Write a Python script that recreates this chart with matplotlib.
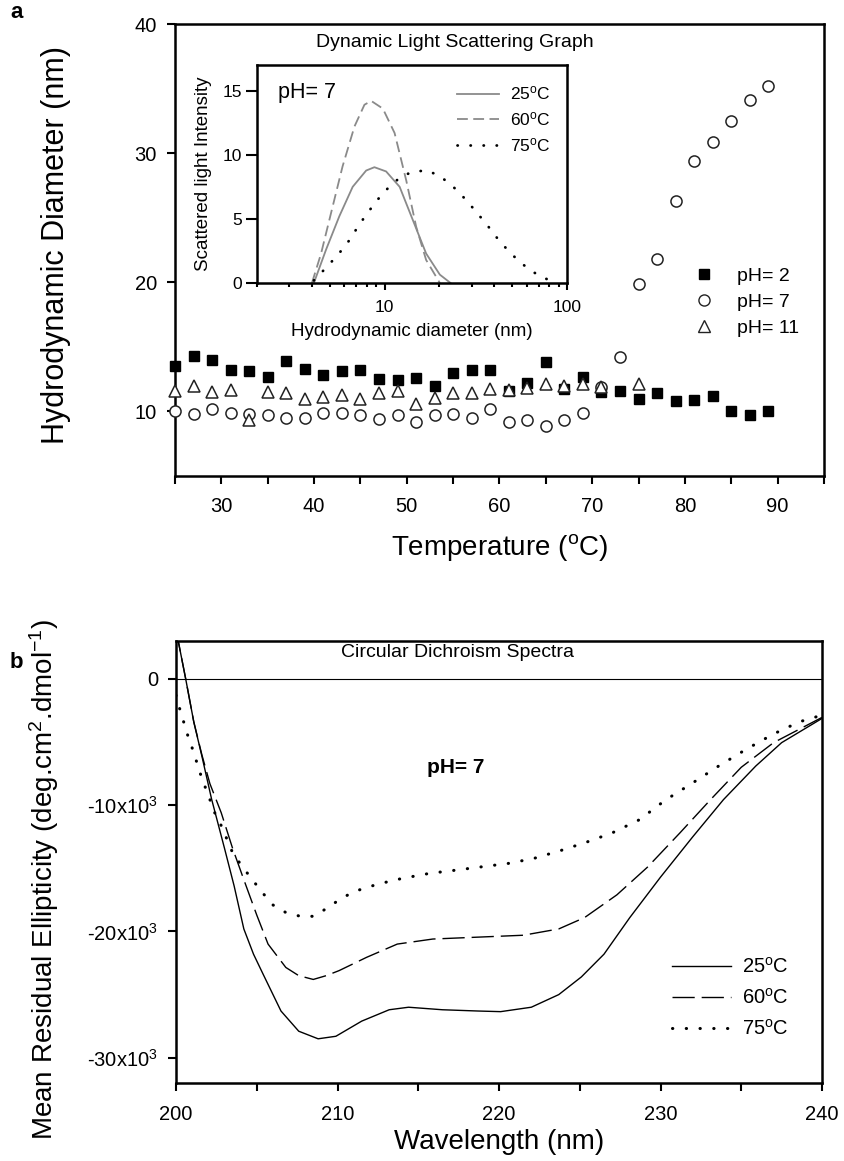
import numpy as np
import matplotlib
matplotlib.use("Agg")
from matplotlib import pyplot as plt
from matplotlib.lines import Line2D
from matplotlib.ticker import FixedLocator, FixedFormatter, NullFormatter

plt.rcParams["font.family"] = ["Liberation Sans", "DejaVu Sans"]
plt.rcParams["mathtext.fontset"] = "custom"
plt.rcParams["mathtext.rm"] = "Liberation Sans"
plt.rcParams["mathtext.it"] = "Liberation Sans:italic"

# ---- panel a: DLS vs temperature ----
temps = [25, 27, 29, 31, 33, 35, 37, 39, 41, 43, 45, 47, 49, 51, 53, 55, 57,
         59, 61, 63, 65, 67, 69, 71, 73, 75, 77, 79, 81, 83, 85, 87, 89]
dia_ph2 = [13.5, 14.3, 14.0, 13.2, 13.1, 12.7, 13.9, 13.3, 12.8, 13.1, 13.2,
           12.5, 12.4, 12.6, 12.0, 13.0, 13.2, 13.2, 11.6, 12.2, 13.8, 11.7,
           12.7, 11.5, 11.6, 11.0, 11.4, 10.8, 10.9, 11.2, 10.0, 9.7, 10.0]
dia_ph7 = [10.0, 9.8, 10.2, 9.85, 9.8, 9.7, 9.5, 9.5, 9.9, 9.85, 9.7, 9.4,
           9.7, 9.15, 9.7, 9.8, 9.5, 10.2, 9.2, 9.3, 8.9, 9.3, 9.85, 11.9,
           14.2, 19.9, 21.8, 26.3, 29.4, 30.9, 32.5, 34.1, 35.2]
temps_ph11 = [25, 27, 29, 31, 33, 35, 37, 39, 41, 43, 45, 47, 49, 51, 53, 55,
              57, 59, 61, 63, 65, 67, 69, 71, 75]
dia_ph11 = [11.55, 12.0, 11.5, 11.65, 9.3, 11.5, 11.4, 11.0, 11.1, 11.3, 11.0,
            11.4, 11.55, 10.6, 11.05, 11.4, 11.4, 11.7, 11.65, 11.8, 12.1,
            12.0, 12.15, 11.9, 12.1]

# inset: size distribution at pH 7
d25 = [4.1, 4.78, 5.65, 6.69, 7.93, 8.8, 10.2, 12.1, 14.3, 16.9, 20.1, 23.0]
i25 = [0.0, 2.6, 5.2, 7.5, 8.77, 9.03, 8.7, 7.5, 4.9, 2.3, 0.65, 0.0]
d60 = [4.0, 4.49, 5.09, 5.89, 6.84, 7.76, 8.45, 9.79, 11.35, 13.15, 14.9,
       16.9, 20.1]
i60 = [0.0, 2.3, 5.45, 9.1, 12.2, 13.9, 14.2, 13.6, 11.7, 8.0, 4.4, 1.8, 0.0]
d75 = [4.1, 4.94, 5.7, 6.47, 7.19, 8.06, 9.07, 10.6, 12.45, 14.6, 17.2, 20.3,
       24.0, 27.9, 32.0, 36.6, 41.7, 48.1, 56.0, 66.3, 77.6]
i75 = [0.2, 1.4, 2.4, 3.4, 4.46, 5.45, 6.43, 7.5, 8.35, 8.7, 8.77, 8.3, 7.45,
       6.5, 5.5, 4.5, 3.45, 2.45, 1.55, 0.8, 0.3]

# ---- panel b: CD spectra ----
wl25 = [200, 200.6, 201.1, 201.6, 202.2, 203.0, 203.6, 204.2, 204.8, 205.4,
        206.5, 207.6, 208.8, 209.9, 211.5, 213.2, 214.4, 216.5, 218.7, 220.1,
        222.0, 223.7, 225.1, 226.5, 228.1, 230.0, 232.0, 233.9, 235.9, 237.5,
        240]
cd25 = [3900, 0, -3400, -6100, -9500, -13400, -16400, -19800, -21800, -23400,
        -26300, -27900, -28500, -28300, -27100, -26200, -26000, -26200, -26300,
        -26350, -26000, -25000, -23600, -21800, -18900, -15700, -12500, -9560,
        -6900, -5050, -3130]
wl60 = [200, 200.6, 201.1, 201.6, 202.1, 202.8, 203.5, 204.2, 205.0, 205.7,
        206.8, 207.6, 208.5, 209.3, 210.1, 211.8, 213.7, 215.9, 218.7, 221.5,
        223.7, 225.3, 227.3, 229.2, 231.2, 233.1, 235.0, 237.0, 240]
cd60 = [3900, 0, -3400, -6000, -8300, -10600, -13400, -15900, -18700, -21000,
        -22850, -23500, -23800, -23500, -23100, -22050, -21000, -20600, -20450,
        -20300, -19800, -18900, -17100, -14900, -12200, -9560, -7000, -5050,
        -3050]
wl75 = [200.0, 200.2, 200.45, 200.7, 200.97, 201.24, 201.5, 201.8, 202.1,
        202.35, 202.8, 203.5, 204.07, 204.7, 205.3, 206.0, 206.8, 207.7, 208.5,
        209.3, 210.1, 211.0, 212.5, 214.0, 215.7, 217.3, 219.0, 220.65, 222.2,
        223.8, 225.35, 227.0, 228.7, 230.3, 232.0, 233.6, 235.3, 236.97, 238.6,
        240]
cd75 = [-1300, -2240, -3300, -4370, -5350, -6420, -7480, -8540, -9560, -10480,
        -11620, -13750, -14810, -15850, -16850, -17900, -18500, -18800, -18800,
        -18200, -17500, -16850, -16250, -15800, -15400, -15150, -14870, -14600,
        -14200, -13600, -12960, -12200, -11150, -9600, -8230, -6900, -5580,
        -4380, -3400, -2870]
cd_ticks = [0, -10000, -20000, -30000]
cd_ticklabels = ["0", "-10x10$^3$", "-20x10$^3$", "-30x10$^3$"]

deg = r"$^{\rm o}$C"
W, H = 845, 1161
fig = plt.figure(figsize=(W / 100, H / 100), dpi=100)


def box(x0, y0, x1, y1):
    return [x0 / W, 1 - y1 / H, (x1 - x0) / W, (y1 - y0) / H]


def style(ax, lw=1.8):
    for s in ax.spines.values():
        s.set_linewidth(lw)
    ax.tick_params(which="both", direction="out", top=False, right=False,
                   width=1.5, length=6)


# panel a
ax1 = fig.add_axes(box(175, 24, 824, 476))
style(ax1)
ax1.plot(temps, dia_ph2, "s", color="black", ms=7, clip_on=False, zorder=3)
ax1.plot(temps, dia_ph7, "o", mfc="white", mec="#222222", mew=1.1, ms=8,
         clip_on=False, zorder=4)
ax1.plot(temps_ph11, dia_ph11, "^", mfc="white", mec="#222222", mew=1.1,
         ms=8, clip_on=False, zorder=5)
ax1.set_xlim(25, 95)
ax1.set_ylim(5, 40)
ax1.xaxis.set_major_locator(FixedLocator([30, 40, 50, 60, 70, 80, 90]))
ax1.xaxis.set_minor_locator(FixedLocator([25, 35, 45, 55, 65, 75, 85, 95]))
ax1.yaxis.set_major_locator(FixedLocator([10, 20, 30, 40]))
ax1.tick_params(labelsize=14.5)
ax1.tick_params(axis="x", pad=9)
ax1.tick_params(axis="y", pad=7)
ax1.set_xlabel("Temperature (" + deg + ")", fontsize=20)
ax1.set_ylabel("Hydrodynamic Diameter (nm)", fontsize=22)
ax1.xaxis.set_label_coords(0.5, -0.124)
ax1.yaxis.set_label_coords(-0.16, 0.51)
ax1.text(55.2, 38.6, "Dynamic Light Scattering Graph", fontsize=14,
         ha="center", va="center")
handles = [Line2D([], [], ls="none", marker="s", color="black", ms=7),
           Line2D([], [], ls="none", marker="o", mfc="white", mec="#222222",
                  ms=8),
           Line2D([], [], ls="none", marker="^", mfc="white", mec="#222222",
                  ms=8)]
ax1.legend(handles, ["pH= 2", "pH= 7", "pH= 11"], loc="upper left",
           bbox_to_anchor=(0.80, 0.461), frameon=False, fontsize=14,
           handlelength=1.0, handletextpad=1.2, labelspacing=0.43,
           borderpad=0, borderaxespad=0)

# inset
ins = fig.add_axes(box(257, 65, 567, 283))
style(ins, lw=1.8)
ins.set_xscale("log")
ins.plot(d25, i25, color="#8a8a8a", lw=1.3, label="25" + deg)
ins.plot(d60, i60, color="#8a8a8a", lw=1.3, dashes=(6, 3), label="60" + deg)
ins.plot(d75, i75, color="black", lw=2.0, dashes=(0.1, 4.6),
         dash_capstyle="round", label="75" + deg)
ins.set_xlim(2, 100)
ins.set_ylim(0, 17)
ins.xaxis.set_major_locator(FixedLocator([10, 100]))
ins.xaxis.set_major_formatter(FixedFormatter(["10", "100"]))
ins.xaxis.set_minor_locator(FixedLocator(
    [2, 3, 4, 5, 6, 7, 8, 9, 20, 30, 40, 50, 60, 70, 80, 90]))
ins.xaxis.set_minor_formatter(NullFormatter())
ins.yaxis.set_major_locator(FixedLocator([0, 5, 10, 15]))
ins.tick_params(labelsize=12.5)
ins.tick_params(axis="y", length=8, pad=3)
ins.tick_params(axis="x", which="major", length=5, pad=7)
ins.tick_params(axis="x", which="minor", length=3)
ins.set_ylabel("Scattered light Intensity", fontsize=13.5)
ins.set_xlabel("Hydrodynamic diameter (nm)", fontsize=13.5)
ins.yaxis.set_label_coords(-0.145, 0.5)
ins.xaxis.set_label_coords(0.5, -0.183)
ins.text(0.068, 0.876, "pH= 7", transform=ins.transAxes, fontsize=15.5,
         va="center")
ins.legend(loc="upper left", bbox_to_anchor=(0.645, 0.91), frameon=False,
           fontsize=12.5, handlelength=2.45, handletextpad=0.6,
           labelspacing=0.45, borderpad=0, borderaxespad=0)

# panel b
ax2 = fig.add_axes(box(176, 641, 822, 1083))
style(ax2)
ax2.axhline(0, color="black", lw=0.8)
ax2.plot(wl25, cd25, color="black", lw=1.0, label="25" + deg)
ax2.plot(wl60, cd60, color="black", lw=1.0, dashes=(16, 5), label="60" + deg)
ax2.plot(wl75, cd75, color="black", lw=2.2, dashes=(0.1, 4.4),
         dash_capstyle="round", label="75" + deg)
ax2.set_xlim(200, 240)
ax2.set_ylim(-32000, 3000)
ax2.xaxis.set_major_locator(FixedLocator([200, 210, 220, 230, 240]))
ax2.xaxis.set_minor_locator(FixedLocator([205, 215, 225, 235]))
ax2.yaxis.set_major_locator(FixedLocator(cd_ticks))
ax2.yaxis.set_major_formatter(FixedFormatter(cd_ticklabels))
ax2.tick_params(labelsize=14.5)
ax2.tick_params(axis="x", pad=9.5)
ax2.tick_params(axis="y", pad=7)
ax2.set_xlabel("Wavelength (nm)", fontsize=20)
ax2.set_ylabel("Mean Residual Ellipticity (deg.cm$^2$.dmol$^{-1}$)",
               fontsize=20)
ax2.xaxis.set_label_coords(0.5, -0.104)
ax2.yaxis.set_label_coords(-0.178, 0.46)
ax2.text(217.4, 2100, "Circular Dichroism Spectra", fontsize=14,
         ha="center", va="center")
ax2.text(217.3, -7000, "pH= 7", fontsize=15, fontweight="bold",
         ha="center", va="center")
ax2.legend(loc="upper left", bbox_to_anchor=(0.768, 0.285), frameon=False,
           fontsize=14.5, handlelength=2.9, handletextpad=0.57,
           labelspacing=0.55, borderpad=0, borderaxespad=0)

fig.text(10 / W, 1 - 12 / H, "a", fontsize=16, fontweight="bold",
         va="center")
fig.text(10 / W, 1 - 662 / H, "b", fontsize=16, fontweight="bold",
         va="center")

fig.savefig("out.png", dpi=100)
